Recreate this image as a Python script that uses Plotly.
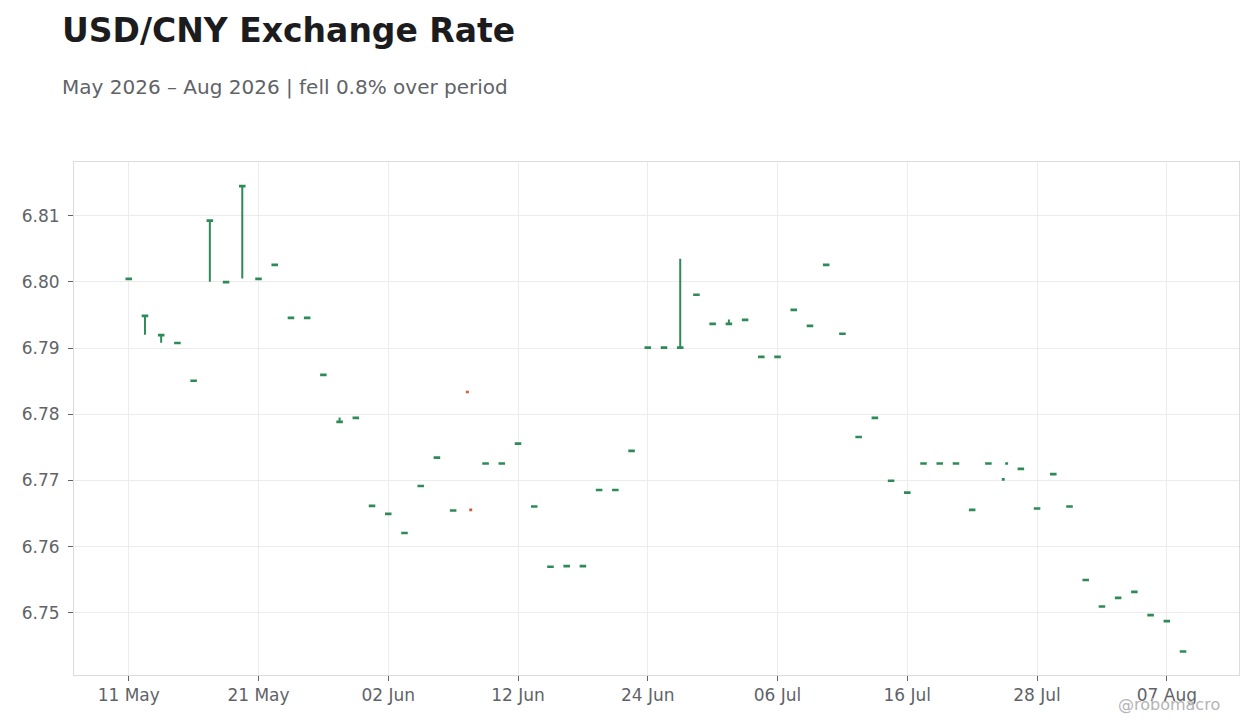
import plotly.graph_objects as go

# daily candles (weekends hidden by rangebreaks)
dates = ["2026-05-11", "2026-05-12", "2026-05-13", "2026-05-14", "2026-05-15",
         "2026-05-18", "2026-05-19", "2026-05-20", "2026-05-21", "2026-05-22",
         "2026-05-25", "2026-05-26", "2026-05-27", "2026-05-28", "2026-05-29",
         "2026-06-01", "2026-06-02", "2026-06-03", "2026-06-04", "2026-06-05",
         "2026-06-08", "2026-06-10", "2026-06-11", "2026-06-12",
         "2026-06-15", "2026-06-16", "2026-06-17", "2026-06-18", "2026-06-19",
         "2026-06-22", "2026-06-23", "2026-06-24", "2026-06-25", "2026-06-26",
         "2026-06-29", "2026-06-30", "2026-07-01", "2026-07-02", "2026-07-03",
         "2026-07-06", "2026-07-07", "2026-07-08", "2026-07-09", "2026-07-10",
         "2026-07-13", "2026-07-14", "2026-07-15", "2026-07-16", "2026-07-17",
         "2026-07-20", "2026-07-21", "2026-07-22", "2026-07-23",
         "2026-07-27", "2026-07-28", "2026-07-29", "2026-07-30", "2026-07-31",
         "2026-08-03", "2026-08-04", "2026-08-05", "2026-08-06", "2026-08-07",
         "2026-08-10"]
close = [6.8005, 6.7949, 6.7920, 6.7908, 6.7851,
         6.8093, 6.8000, 6.8145, 6.8005, 6.8026,
         6.7946, 6.7946, 6.7860, 6.7789, 6.7795,
         6.7662, 6.7650, 6.7621, 6.7692, 6.7735,
         6.7655, 6.7726, 6.7726, 6.7756,
         6.7661, 6.7570, 6.7571, 6.7571, 6.7686,
         6.7686, 6.7745, 6.7901, 6.7901, 6.7901,
         6.7981, 6.7937, 6.7937, 6.7943, 6.7887,
         6.7887, 6.7958, 6.7934, 6.8026, 6.7922,
         6.7766, 6.7795, 6.7700, 6.7682, 6.7726,
         6.7726, 6.7726, 6.7656, 6.7726,
         6.7718, 6.7658, 6.7710, 6.7661, 6.7550,
         6.7510, 6.7523, 6.7532, 6.7497, 6.7488,
         6.7442]
open_ = [6.8004, 6.7948, 6.7919, 6.7907, 6.7850,
         6.8092, 6.7999, 6.8144, 6.8004, 6.8025,
         6.7945, 6.7945, 6.7859, 6.7788, 6.7794,
         6.7661, 6.7649, 6.7620, 6.7691, 6.7734,
         6.7654, 6.7725, 6.7725, 6.7755,
         6.7660, 6.7569, 6.7570, 6.7570, 6.7685,
         6.7685, 6.7744, 6.7900, 6.7900, 6.7900,
         6.7980, 6.7936, 6.7936, 6.7942, 6.7886,
         6.7886, 6.7957, 6.7933, 6.8025, 6.7921,
         6.7765, 6.7794, 6.7699, 6.7681, 6.7725,
         6.7725, 6.7725, 6.7655, 6.7725,
         6.7717, 6.7657, 6.7709, 6.7660, 6.7549,
         6.7509, 6.7522, 6.7531, 6.7496, 6.7487,
         6.7441]
high = [6.8005, 6.7949, 6.7920, 6.7908, 6.7851,
        6.8093, 6.8000, 6.8145, 6.8005, 6.8026,
        6.7946, 6.7946, 6.7860, 6.7795, 6.7795,
        6.7662, 6.7650, 6.7621, 6.7692, 6.7735,
        6.7655, 6.7726, 6.7726, 6.7756,
        6.7661, 6.7570, 6.7571, 6.7571, 6.7686,
        6.7686, 6.7745, 6.7901, 6.7901, 6.8035,
        6.7981, 6.7937, 6.7943, 6.7943, 6.7887,
        6.7887, 6.7958, 6.7934, 6.8026, 6.7922,
        6.7766, 6.7795, 6.7700, 6.7682, 6.7726,
        6.7726, 6.7726, 6.7656, 6.7726,
        6.7718, 6.7658, 6.7710, 6.7661, 6.7550,
        6.7510, 6.7523, 6.7532, 6.7497, 6.7488,
        6.7442]
low = [6.8004, 6.7920, 6.7908, 6.7907, 6.7850,
       6.8000, 6.7999, 6.8005, 6.8004, 6.8025,
       6.7945, 6.7945, 6.7859, 6.7788, 6.7794,
       6.7661, 6.7649, 6.7620, 6.7691, 6.7734,
       6.7654, 6.7725, 6.7725, 6.7755,
       6.7660, 6.7569, 6.7570, 6.7570, 6.7685,
       6.7685, 6.7744, 6.7900, 6.7900, 6.7900,
       6.7980, 6.7936, 6.7936, 6.7942, 6.7886,
       6.7886, 6.7957, 6.7933, 6.8025, 6.7921,
       6.7765, 6.7794, 6.7699, 6.7681, 6.7725,
       6.7725, 6.7725, 6.7655, 6.7725,
       6.7717, 6.7657, 6.7709, 6.7660, 6.7549,
       6.7509, 6.7522, 6.7531, 6.7496, 6.7487,
       6.7441]

# days that came in as two intraday rows
extra_times = ["2026-06-08 21:00", "2026-06-09 02:00", "2026-07-23 22:00", "2026-07-24 03:00"]
extra_open = [6.7834, 6.7656, 6.7701, 6.7725]
extra_close = [6.7833, 6.7655, 6.7702, 6.7726]
extra_high = [6.7834, 6.7656, 6.7702, 6.7726]
extra_low = [6.7833, 6.7655, 6.7701, 6.7725]

tick_dates = ["2026-05-11", "2026-05-21", "2026-06-02", "2026-06-12", "2026-06-24",
              "2026-07-06", "2026-07-16", "2026-07-28", "2026-08-07"]
y_ticks = [6.75, 6.76, 6.77, 6.78, 6.79, 6.80, 6.81]

GREEN = "#2e8b57"
RED = "#cf5a3c"
GREY = "#5f6368"

fig = go.Figure()
fig.add_trace(go.Candlestick(
    x=dates, open=open_, high=high, low=low, close=close,
    increasing=dict(line=dict(color=GREEN, width=2)),
    decreasing=dict(line=dict(color=RED, width=2)),
    showlegend=False, name="USD/CNY"))
fig.add_trace(go.Candlestick(
    x=extra_times, open=extra_open, high=extra_high, low=extra_low, close=extra_close,
    increasing=dict(line=dict(color=GREEN, width=2)),
    decreasing=dict(line=dict(color=RED, width=2)),
    showlegend=False, name="USD/CNY", xaxis="x2"))

rb = [dict(bounds=["sat", "mon"])]
xrange = ["2026-05-05 15:00", "2026-08-13 10:48"]
axis_style = dict(showline=True, linecolor="#dcdcdc", linewidth=1, mirror=True,
                  gridcolor="#ececec", zeroline=False, ticks="outside", ticklen=5,
                  tickcolor=GREY, tickfont=dict(size=17, color=GREY))

fig.update_layout(
    width=1260, height=728,
    margin=dict(l=66, r=29, t=154, b=61, autoexpand=False),
    paper_bgcolor="white", plot_bgcolor="white",
    font=dict(family="DejaVu Sans", color=GREY),
    boxgap=0.6,
    xaxis=dict(type="date", rangebreaks=rb, range=xrange, tickvals=tick_dates,
               tickformat="%d %b", rangeslider=dict(visible=False), automargin=False,
               **axis_style),
    xaxis2=dict(type="date", rangebreaks=rb, range=xrange, overlaying="x",
                showticklabels=False, showgrid=False, ticks="", showline=False,
                rangeslider=dict(visible=False)),
    yaxis=dict(range=[6.7406, 6.8181], tickvals=y_ticks, tickformat=".2f",
               ticklabelstandoff=5, automargin=False, **axis_style),
    annotations=[
        dict(text="<b>USD/CNY Exchange Rate</b>", xref="paper", yref="paper",
             x=-0.012, y=1.257, xanchor="left", yanchor="middle", showarrow=False,
             font=dict(size=33, color="#1c1c1e")),
        dict(text="May 2026 – Aug 2026 | fell 0.8% over period", xref="paper", yref="paper",
             x=-0.012, y=1.147, xanchor="left", yanchor="middle", showarrow=False,
             font=dict(size=20, color=GREY)),
        dict(text="@robomacro", xref="paper", yref="paper",
             x=0.9854, y=-0.0575, xanchor="right", yanchor="middle", showarrow=False,
             font=dict(size=16, color="#b4b4b4")),
    ],
)

fig.write_html("out.html")
